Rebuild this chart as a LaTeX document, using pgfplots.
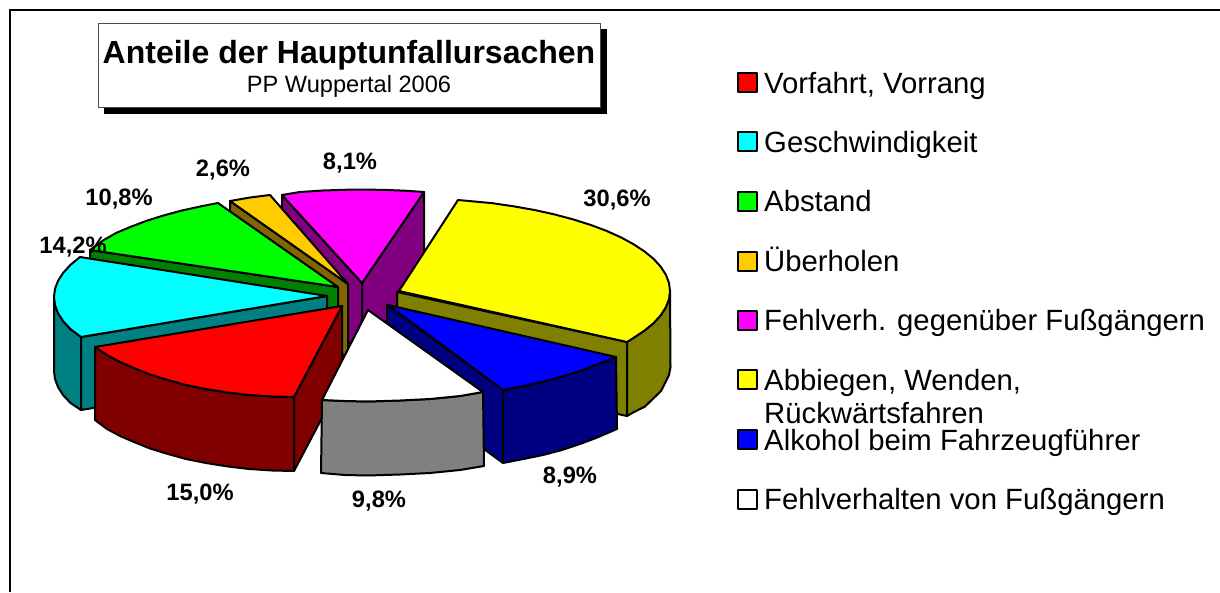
\documentclass[border=0pt]{standalone}
\usepackage{fontspec}
\setmainfont{Liberation Sans}
\usepackage{pgfplots}
\pgfplotsset{compat=1.18}

% one slice face, closed polygon in picture pixels
\newcommand{\face}[2]{\addplot[fill=#1, draw=black, line width=2pt, line join=round] coordinates {#2} -- cycle;}
\newcommand{\swatch}[2]{\addplot[fill=#1, draw=black, line width=2pt, line join=round] coordinates {(738,#2-9.5) (757,#2-9.5) (757,#2+9.5) (738,#2+9.5)} -- cycle;}
\newcommand{\legtext}[2]{\node[anchor=base west, inner sep=0pt, font=\fontsize{29.3}{32}\selectfont] at (axis cs:764,#1) {#2};}
\newcommand{\pct}[3]{\node[inner sep=0pt, font=\fontsize{23.7}{26}\selectfont\bfseries] at (axis cs:#1,#2) {#3};}

\definecolor{cRed}{HTML}{FF0000}
\definecolor{cRedD}{HTML}{800000}
\definecolor{cCyan}{HTML}{00FFFF}
\definecolor{cCyanD}{HTML}{008080}
\definecolor{cGreen}{HTML}{00FF00}
\definecolor{cGreenD}{HTML}{008000}
\definecolor{cOrange}{HTML}{FFCC00}
\definecolor{cOrangeD}{HTML}{806600}
\definecolor{cMag}{HTML}{FF00FF}
\definecolor{cMagD}{HTML}{800080}
\definecolor{cYel}{HTML}{FFFF00}
\definecolor{cYelD}{HTML}{808000}
\definecolor{cBlue}{HTML}{0000FF}
\definecolor{cBlueD}{HTML}{000080}
\definecolor{cGrey}{HTML}{808080}

\begin{document}
\begin{tikzpicture}
\begin{axis}[
    width=1220pt, height=592pt, scale only axis,
    xmin=0, xmax=1220, ymin=0, ymax=592,
    y dir=reverse, hide axis, no markers
]
% keeps the page at the full size
\addplot[draw=none] coordinates {(0,0) (1220,592)};
% outer frame
\addplot[draw=black, line width=2pt] coordinates {(10,592) (10,10) (1220,10)};

% title box with shadow
\addplot[fill=black, draw=black] coordinates {(104,29) (606,29) (606,113) (104,113)} -- cycle;
\addplot[fill=white, draw=black!70, line width=0.8pt] coordinates {(98,23) (600,23) (600,107) (98,107)} -- cycle;

% magenta 8,1
\face{cMagD}{(282,195) (362,283) (362,357) (282,269)}
\face{cMagD}{(362,283) (424,192) (424,266) (362,357)}
\face{cMag}{(282,195) (300,192) (323,190.5) (347,189.7) (362,189.5) (385,189.9) (405,190.7) (424,192) (362,283)}

% orange 2,6
\face{cOrangeD}{(230,201) (348,284) (348,358) (230,275)}
\face{cOrange}{(230,201) (250,197.5) (270,195) (348,284)}

% green 10,8
\face{cGreenD}{(90,250) (338,287) (338,361) (90,324)}
\face{cGreen}{(90,250) (103.3,240.3) (116,233) (130.4,226.9) (146,221) (163.8,215.4) (182,210.5) (202.5,206) (218,203) (338,287)}

% cyan 14,2
\face{cCyanD}{(54,297) (54,371) (55,379) (58,387) (63,395) (70.5,403) (81,410) (81,337) (70.5,329.1) (63.3,321.3) (58.1,313.3) (55,305.2)}
\face{cCyanD}{(81,337) (327,296) (327,370) (81,410)}
\face{cCyan}{(80,257) (70.5,264.8) (63.3,272.7) (58.1,280.7) (55,288.8) (54,297) (55,305.2) (58.1,313.3) (63.3,321.3) (70.5,329.1) (81,337) (327,296)}

% yellow 30,6
\face{cYelD}{(397,292) (627,342) (627,416) (397,366)}
\face{cYelD}{(627,342) (633.7,337.8) (644.6,330.5) (653.7,323) (660.8,315.2) (665.9,307.2) (669,299.1) (670,291) (670.5,367) (669,375) (661,391) (645,406.5) (634,412) (627,416)}
\face{cYel}{(458,200) (491.7,203.1) (513.5,206.3) (534.5,210) (554.4,214.4) (573.2,219.4) (590.6,224.9) (606.6,230.9) (621,237.4) (633.7,244.3) (644.6,251.5) (653.7,259) (660.8,266.8) (665.9,274.8) (669,282.9) (670,291) (669,299.1) (665.9,307.2) (660.8,315.2) (653.7,323) (644.6,330.5) (633.7,337.8) (627,342) (399,291)}

% blue 8,9
\face{cBlueD}{(387,305) (503,390) (503,463) (387,378)}
\face{cBlueD}{(503,390) (523.5,386) (543.4,381.6) (562.2,376.6) (579.6,371) (595.6,365.1) (616,357) (617,429) (596,438) (580,444) (562,450) (543,455) (523.5,459) (503,463)}
\face{cBlue}{(388,305) (616,357) (595.6,365.1) (579.6,371) (562.2,376.6) (543.4,381.6) (523.5,386) (503,390)}

% red 15,0
\face{cRedD}{(294,397) (342,306) (342,380) (294,471)}
\face{cRedD}{(95,347) (107,355) (120,362) (134,368) (150,374.5) (168,380) (186,385) (206,389) (228,392.5) (249,395) (272,396.5) (294,397) (294,471) (272,470.5) (249,469) (228,466.5) (206,463) (186,459) (168,454) (150,448.5) (134,442) (120,436) (107,429) (95,420)}
\face{cRed}{(342,306) (95,347) (107,355) (120,362) (134,368) (150,374.5) (168,380) (186,385) (206,389) (228,392.5) (249,395) (272,396.5) (294,397)}

% white 9,8
\face{cGrey}{(322,400) (345,401) (368,401.5) (400,400.5) (430,399) (460,396) (483,392) (484,466) (460,470) (430,473) (400,474.5) (368,475.5) (345,475) (321,473)}
\face{white}{(368,310) (322,400) (345,401) (368,401.5) (400,400.5) (430,399) (460,396) (483,392)}

% legend swatches
\swatch{cRed}{82}
\swatch{cCyan}{141}
\swatch{cGreen}{201}
\swatch{cOrange}{261}
\swatch{cMag}{320}
\swatch{cYel}{379}
\swatch{cBlue}{439}
\swatch{white}{499}

\node[font=\fontsize{32}{36}\selectfont\bfseries, inner sep=0pt] at (axis cs:349,55) {Anteile der Hauptunfallursachen};
\node[font=\fontsize{23.6}{26}\selectfont, inner sep=0pt] at (axis cs:349,86) {PP Wuppertal 2006};

\legtext{93}{Vorfahrt, Vorrang}
\legtext{152}{Geschwindigkeit}
\legtext{211}{Abstand}
\legtext{271}{Überholen}
\legtext{330}{Fehlverh. gegenüber Fußgängern}
\legtext{390}{Abbiegen, Wenden,}
\legtext{423}{Rückwärtsfahren}
\legtext{450}{Alkohol beim Fahrzeugführer}
\legtext{509}{Fehlverhalten von Fußgängern}

\pct{73}{247}{14,2\%}
\pct{119}{199}{10,8\%}
\pct{223}{170}{2,6\%}
\pct{350}{163}{8,1\%}
\pct{617}{200}{30,6\%}
\pct{570}{477}{8,9\%}
\pct{379}{501}{9,8\%}
\pct{200}{494}{15,0\%}
\end{axis}
\end{tikzpicture}
\end{document}
